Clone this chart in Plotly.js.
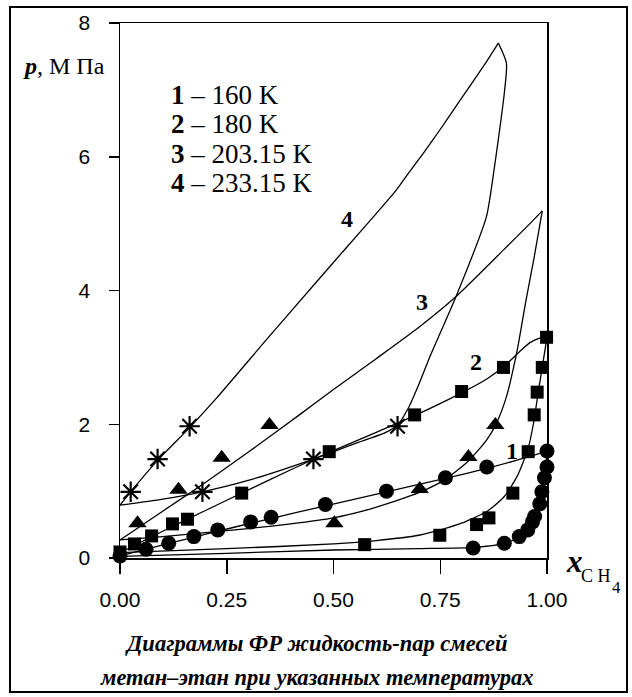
<!DOCTYPE html>
<html>
<head>
<meta charset="utf-8">
<script src="https://cdn.plot.ly/plotly-3.0.1.min.js"></script>
<style>
html,body{margin:0;padding:0;background:#fff;}
#chart{width:632px;height:697px;}
</style>
</head>
<body>
<div id="chart"></div>
<script>
// ---- data (x = mole fraction CH4, p = MPa) ----
const xTicks = [0, 0.25, 0.5, 0.75, 1.0];
const xTickLabels = ["0.00", "0.25", "0.50", "0.75", "1.00"];
const yTicks = [0, 2, 4, 6, 8];
const yTickLabels = ["0", "2", "4", "6", "8"];

const legendLines = ["<b>1</b> – 160 K", "<b>2</b> – 180 K", "<b>3</b> – 203.15 K", "<b>4</b> – 233.15 K"];
const curveLabels = ["1", "2", "3", "4"];

// computed curves (bubble = upper branch, dew = lower branch)
const c1BubbleX = [0, 0.06, 0.114, 0.172, 0.229, 0.306, 0.353, 0.481, 0.624, 0.762, 0.859, 0.95, 1.0];
const c1BubbleP = [0.03, 0.13, 0.22, 0.31, 0.40, 0.52, 0.59, 0.78, 0.99, 1.19, 1.34, 1.50, 1.60];
const c1DewX = [0, 0.25, 0.5, 0.7, 0.83, 0.9, 0.935, 0.955, 0.968, 0.977, 0.985, 0.991, 0.996, 1.0];
const c1DewP = [0.025, 0.07, 0.12, 0.14, 0.16, 0.22, 0.31, 0.42, 0.55, 0.68, 0.86, 1.05, 1.30, 1.60];

const c2BubbleX = [0, 0.1, 0.2, 0.285, 0.4, 0.49, 0.6, 0.69, 0.8, 0.86, 0.9, 0.935, 0.96, 0.985, 1.0];
const c2BubbleP = [0.08, 0.40, 0.71, 0.97, 1.32, 1.58, 1.88, 2.13, 2.47, 2.68, 2.87, 3.08, 3.22, 3.29, 3.30];
const c2DewX = [0, 0.25, 0.5, 0.6, 0.7, 0.75, 0.8, 0.86, 0.9, 0.93, 0.955, 0.968, 0.98, 0.99, 1.0];
const c2DewP = [0.08, 0.14, 0.21, 0.26, 0.34, 0.42, 0.52, 0.70, 0.92, 1.22, 1.62, 2.0, 2.5, 2.9, 3.3];

const c3BubbleX = [0, 0.1, 0.2, 0.3, 0.42, 0.5, 0.6, 0.7, 0.787, 0.897, 0.96, 0.989];
const c3BubbleP = [0.27, 0.70, 1.13, 1.58, 2.14, 2.52, 2.98, 3.45, 3.91, 4.60, 5.0, 5.19];
const c3DewX = [0, 0.1, 0.2, 0.3, 0.4, 0.5, 0.568, 0.63, 0.701, 0.763, 0.816, 0.858, 0.879, 0.904, 0.93, 0.951, 0.97, 0.989];
const c3DewP = [0.27, 0.32, 0.38, 0.44, 0.51, 0.60, 0.70, 0.82, 0.98, 1.18, 1.45, 1.76, 1.98, 2.39, 3.1, 3.86, 4.5, 5.19];

const c4BubbleX = [0, 0.025, 0.088, 0.163, 0.226, 0.345, 0.463, 0.53, 0.6, 0.647, 0.674, 0.709, 0.749, 0.795, 0.858, 0.886];
const c4BubbleP = [0.79, 0.99, 1.46, 1.95, 2.39, 3.28, 4.15, 4.64, 5.15, 5.50, 5.74, 6.04, 6.40, 6.83, 7.42, 7.70];
const c4DewX = [0, 0.1, 0.193, 0.3, 0.453, 0.55, 0.62, 0.65, 0.675, 0.70, 0.725, 0.787, 0.858, 0.877, 0.889, 0.9, 0.905, 0.886];
const c4DewP = [0.79, 0.88, 0.99, 1.16, 1.48, 1.71, 1.87, 1.99, 2.24, 2.60, 3.0, 3.91, 5.10, 5.85, 6.40, 6.95, 7.40, 7.70];

// experimental points
const t1X = [0, 0.061, 0.114, 0.173, 0.229, 0.306, 0.354, 0.481, 0.624, 0.762, 0.859, 1.0, 0.827, 0.9, 0.935, 0.955, 0.966, 0.971, 0.983, 0.988, 0.994, 1.0];
const t1P = [0.03, 0.13, 0.22, 0.32, 0.42, 0.54, 0.61, 0.80, 1.00, 1.20, 1.36, 1.60, 0.15, 0.22, 0.32, 0.42, 0.54, 0.62, 0.81, 0.99, 1.20, 1.36];
const t2X = [0, 0.034, 0.074, 0.123, 0.158, 0.285, 0.49, 0.69, 0.80, 0.898, 0.999, 0.573, 0.749, 0.835, 0.864, 0.92, 0.956, 0.970, 0.977, 0.989];
const t2P = [0.09, 0.21, 0.33, 0.51, 0.58, 0.97, 1.59, 2.14, 2.49, 2.85, 3.30, 0.20, 0.34, 0.50, 0.60, 0.97, 1.59, 2.14, 2.48, 2.85];
const t3X = [0.041, 0.137, 0.238, 0.350, 0.502, 0.702, 0.816, 0.879];
const t3P = [0.52, 1.02, 1.50, 1.99, 0.52, 1.03, 1.51, 1.99];
const t4X = [0.025, 0.088, 0.163, 0.193, 0.453, 0.650];
const t4P = [0.99, 1.48, 1.97, 0.99, 1.48, 1.97];

// ---- helpers ----
const L = 120, T = 23, W = 427, H = 535;
const pxX = v => (v - L) / W;
const pxY = v => (T + H - v) / H;
const SERIF = "Liberation Serif, Times New Roman, serif";
const SANS = "Liberation Sans, Arial, sans-serif";
const NB = "\u00A0";

const lineStyle = {color: "#000", width: 1.3, shape: "spline", smoothing: 0.6};
function curve(x, y) { return {x, y, mode: "lines", line: lineStyle, hoverinfo: "skip", cliponaxis: false}; }
const traces = [
  curve(c1BubbleX, c1BubbleP), curve(c1DewX, c1DewP),
  curve(c2BubbleX, c2BubbleP), curve(c2DewX, c2DewP),
  curve(c3BubbleX, c3BubbleP), curve(c3DewX, c3DewP),
  curve(c4BubbleX, c4BubbleP), curve(c4DewX, c4DewP),
  {x: t1X, y: t1P, mode: "markers", cliponaxis: false, marker: {symbol: "circle", size: 15, color: "#000"}},
  {x: t2X, y: t2P, mode: "markers", cliponaxis: false, marker: {symbol: "square", size: 13, color: "#000"}},
  {x: t3X, y: t3P, mode: "markers", cliponaxis: false, marker: {symbol: "triangle-up", size: 16, color: "#000"}},
  {x: t4X, y: t4P, mode: "markers", cliponaxis: false, marker: {symbol: "asterisk-open", size: 17, color: "#000", line: {color: "#000", width: 2.2}}}
];

const ann = [];
// legend block
const legendY = [94.5, 124, 154, 183];
legendLines.forEach((t, i) => ann.push({xref: "paper", yref: "paper", x: pxX(169), y: pxY(legendY[i]), xanchor: "left", yanchor: "middle", text: t, showarrow: false, font: {family: SERIF, size: 27, color: "#000"}}));
// curve number labels
const labelPos = [[511.7, 451], [475.5, 362], [422, 302], [347.3, 219]];
curveLabels.forEach((t, i) => ann.push({xref: "paper", yref: "paper", x: pxX(labelPos[i][0]), y: pxY(labelPos[i][1]), xanchor: "center", yanchor: "middle", text: "<b>" + t + "</b>", showarrow: false, font: {family: SERIF, size: 24, color: "#000"}}));
// axis titles
ann.push({xref: "paper", yref: "paper", x: pxX(21), y: pxY(66), xanchor: "left", yanchor: "middle", text: "<b><i>p</i></b>," + NB + "М" + NB + "Па", showarrow: false, font: {family: SERIF, size: 24, color: "#000"}});
ann.push({xref: "paper", yref: "paper", x: pxX(574.5), y: pxY(561), xanchor: "center", yanchor: "middle", text: "<b><i>x</i></b>", showarrow: false, font: {family: SERIF, size: 31, color: "#000"}});
ann.push({xref: "paper", yref: "paper", x: pxX(596), y: pxY(576), xanchor: "center", yanchor: "middle", text: "C H", showarrow: false, font: {family: SERIF, size: 18, color: "#000"}});
ann.push({xref: "paper", yref: "paper", x: pxX(616.5), y: pxY(587), xanchor: "center", yanchor: "middle", text: "4", showarrow: false, font: {family: SERIF, size: 17, color: "#000"}});
// caption
ann.push({xref: "paper", yref: "paper", x: pxX(316), y: pxY(643), xanchor: "center", yanchor: "middle", text: "<b><i>Диаграммы ФР жидкость-пар смесей</i></b>", showarrow: false, font: {family: SERIF, size: 22.5, color: "#000"}});
ann.push({xref: "paper", yref: "paper", x: pxX(316), y: pxY(677), xanchor: "center", yanchor: "middle", text: "<b><i>метан–этан при указанных температурах</i></b>", showarrow: false, font: {family: SERIF, size: 22.5, color: "#000"}});

const layout = {
  width: 632, height: 697,
  margin: {l: L, r: 632 - L - W, t: T, b: 697 - T - H, pad: 0},
  paper_bgcolor: "#fff", plot_bgcolor: "#fff",
  showlegend: false,
  xaxis: {range: [0, 1], showgrid: false, zeroline: false, showline: true, mirror: true, linecolor: "#000", linewidth: 1.5,
          ticks: "outside", ticklen: 14, tickwidth: 1.5, tickcolor: "#000", tickvals: xTicks, ticktext: xTickLabels,
          tickfont: {family: SANS, size: 21, color: "#000"}, ticklabelstandoff: 8, fixedrange: true},
  yaxis: {range: [0, 8], showgrid: false, zeroline: false, showline: true, mirror: true, linecolor: "#000", linewidth: 1.5,
          ticks: "outside", ticklen: 10, tickwidth: 1.5, tickcolor: "#000", tickvals: yTicks, ticktext: yTickLabels,
          tickfont: {family: SANS, size: 21, color: "#000"}, ticklabelstandoff: 14, fixedrange: true},
  annotations: ann,
  shapes: [{type: "rect", xref: "paper", yref: "paper", x0: pxX(10), x1: pxX(627), y0: pxY(692), y1: pxY(7), line: {color: "#000", width: 2}, fillcolor: "rgba(0,0,0,0)", layer: "below"}]
};

Plotly.newPlot("chart", traces, layout, {staticPlot: true, displayModeBar: false});
</script>
</body>
</html>
